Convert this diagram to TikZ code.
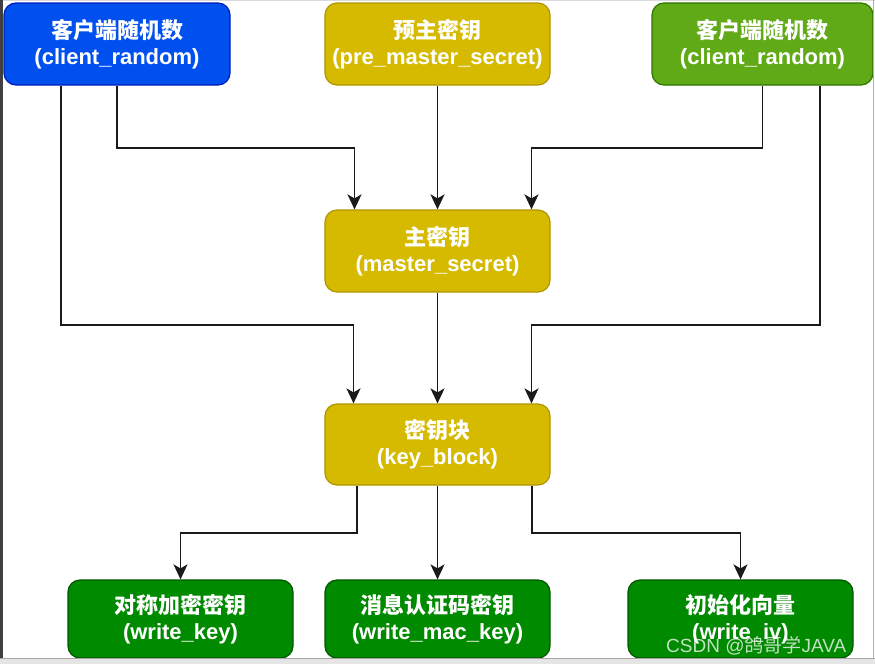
\documentclass[tikz,border=0pt]{standalone}
\usepackage{fontspec}
\setmainfont{Liberation Sans}
\newfontfamily\cjk{Noto Sans CJK SC}
\usetikzlibrary{arrows.meta}
\definecolor{bluefill}{HTML}{0050EF}
\definecolor{bluedraw}{HTML}{001DBC}
\definecolor{yelfill}{HTML}{D6BA00}
\definecolor{yeldraw}{HTML}{B09500}
\definecolor{lgfill}{HTML}{60A917}
\definecolor{lgdraw}{HTML}{2D7600}
\definecolor{dgfill}{HTML}{008A00}
\definecolor{dgdraw}{HTML}{005700}
\definecolor{linecol}{HTML}{1A1A1A}
\tikzset{
  box/.style={rounded corners=12pt, line width=1.2pt, align=center, text=white,
    font=\bfseries\fontsize{22}{26}\selectfont, inner sep=0pt,
    minimum width=225pt, minimum height=82pt},
  bluebox/.style={box, fill=bluefill, draw=bluedraw},
  yelbox/.style={box, fill=yelfill, draw=yeldraw},
  lgbox/.style={box, fill=lgfill, draw=lgdraw},
  dgbox/.style={box, fill=dgfill, draw=dgdraw, minimum height=78pt},
  arr/.style={draw=linecol, line width=1.9pt, -{Stealth[length=15pt,width=14pt,inset=4pt]}},
}
\begin{document}
\begin{tikzpicture}[x=1pt,y=-1pt]
\useasboundingbox (0,0) rectangle (875,664);
\fill[white] (0,0) rectangle (875,664);
\draw[gray!30, line width=1pt] (0,0.5) -- (875,0.5);

\node[bluebox, minimum width=226pt] (cr1) at (117,44) {{\cjk 客户端随机数}\\(client\_random)};
\node[yelbox] (pms) at (437.5,44) {{\cjk 预主密钥}\\(pre\_master\_secret)};
\node[lgbox, minimum width=221pt] (cr2) at (762.5,44) {{\cjk 客户端随机数}\\(client\_random)};
\node[yelbox] (ms) at (437.5,251) {{\cjk 主密钥}\\(master\_secret)};
\node[yelbox, minimum height=81pt] (kb) at (437.5,444.5) {{\cjk 密钥块}\\(key\_block)};
\node[dgbox] (wk) at (180.5,619) {{\cjk 对称加密密钥}\\(write\_key)};
\node[dgbox] (wmk) at (437.5,619) {{\cjk 消息认证码密钥}\\(write\_mac\_key)};
\node[dgbox] (wiv) at (740.5,619) {{\cjk 初始化向量}\\(write\_iv)};

% to master secret
\draw[arr] (cr1.south) -- ++(0,62) -| ([xshift=-83pt]ms.north);
\draw[arr] (pms.south) -- (ms.north);
\draw[arr] (cr2.south) -- ++(0,62) -| ([xshift=94pt]ms.north);
% to key block
\draw[arr] ([xshift=-56pt]cr1.south) -- ++(0,239) -| ([xshift=-84pt]kb.north);
\draw[arr] (ms.south) -- (kb.north);
\draw[arr] ([xshift=57.5pt]cr2.south) -- ++(0,239) -| ([xshift=94pt]kb.north);
% to outputs
\draw[arr] ([xshift=-80.5pt]kb.south) -- ++(0,47) -| (wk.north);
\draw[arr] (kb.south) -- (wmk.north);
\draw[arr] ([xshift=94.5pt]kb.south) -- ++(0,47) -| (wiv.north);

% screenshot frame
\fill[black!75] (0,0) rectangle (2.5,664);
\fill[gray!20] (0,658) rectangle (875,664);
\draw[gray!70, line width=1pt] (0,658) -- (875,658);
\draw[gray!60, line width=1pt] (873.5,0) -- (873.5,658);

% watermark
\node[anchor=west, text=white, opacity=0.75, font=\fontsize{19}{19}\selectfont, inner sep=0pt] (wm) at (666,646) {CSDN @{\cjk 鸽哥学}JAVA};
\end{tikzpicture}
\end{document}
